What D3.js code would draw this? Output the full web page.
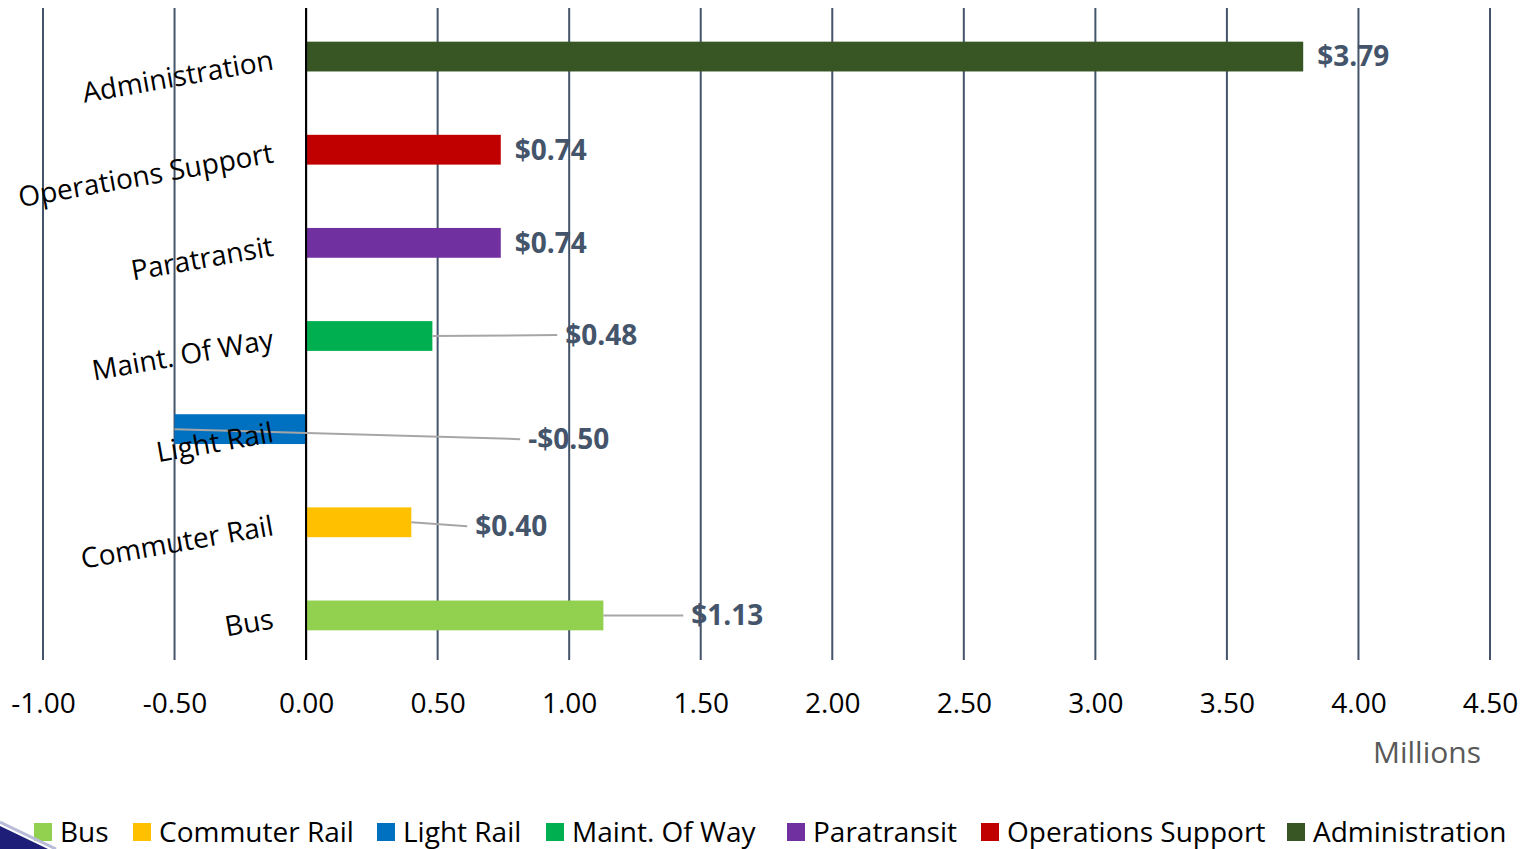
<!DOCTYPE html>
<html>
<head>
<meta charset="utf-8">
<script src="https://cdn.jsdelivr.net/npm/d3@7"></script>
<style>
  body { margin: 0; background: #fff; }
  svg text { font-family: 'Open Sans', sans-serif; }
</style>
</head>
<body>
<div id="chart"></div>
<script>
// data
var categories = ['Bus', 'Commuter Rail', 'Light Rail', 'Maint. Of Way', 'Paratransit', 'Operations Support', 'Administration']
var values = [1.13, 0.40, -0.50, 0.48, 0.74, 0.74, 3.79]
var labels = ['$1.13', '$0.40', '-$0.50', '$0.48', '$0.74', '$0.74', '$3.79']
var colors = ['#92D050', '#FFC000', '#0070C0', '#00B050', '#7030A0', '#C00000', '#375623']
var ticks = [-1, -0.5, 0, 0.5, 1, 1.5, 2, 2.5, 3, 3.5, 4, 4.5]
// where the moved data labels sit (in millions), null = next to the bar
var labelAt = [1.464, 0.643, 0.844, 0.985, null, null, null]
var labelDy = [0, 4, 10, -1, 0, 0, 0]

var width = 1526, height = 849

var svg = d3.select('#chart').append('svg')
  .attr('width', width)
  .attr('height', height)

var xScale = d3.scaleLinear().domain([-1, 4.5]).range([43, 1490])
var yScale = d3.scaleBand()
  .domain(categories.slice().reverse())
  .range([10, 662])
  .paddingInner(0.68)
  .paddingOuter(0.34)

// gridlines
svg.append('g')
  .selectAll('line')
  .data(ticks)
  .enter()
  .append('line')
  .attr('x1', d => xScale(d))
  .attr('x2', d => xScale(d))
  .attr('y1', 8)
  .attr('y2', 660)
  .attr('stroke', d => d === 0 ? '#000' : '#44546A')
  .attr('stroke-width', 2)

// x axis labels
svg.append('g')
  .attr('transform', 'translate(0,703)')
  .call(d3.axisBottom(xScale).tickValues(ticks).tickSize(0)
    .tickFormat(d => d3.format('.2f')(d).replace('\u2212', '-')))
  .call(g => g.select('.domain').remove())
  .selectAll('text')
  .attr('y', 0)
  .attr('dy', '0.35em')
  .attr('fill', '#000')
  .style('font-size', '28px')

svg.append('text')
  .attr('x', 1481)
  .attr('y', 752)
  .attr('dy', '0.35em')
  .attr('text-anchor', 'end')
  .attr('fill', '#595959')
  .style('font-size', '30px')
  .text('Millions')

var rows = categories.map(function(c, i) {
  return { name: c, value: values[i], label: labels[i], color: colors[i], at: labelAt[i], dy: labelDy[i] }
})

// bars
svg.selectAll('.bar')
  .data(rows)
  .enter()
  .append('rect')
  .attr('class', 'bar')
  .attr('x', d => xScale(Math.min(0, d.value)))
  .attr('width', d => Math.abs(xScale(d.value) - xScale(0)))
  .attr('y', d => yScale(d.name))
  .attr('height', yScale.bandwidth())
  .attr('fill', d => d.color)

// redraw zero line over bars
svg.append('line')
  .attr('x1', xScale(0)).attr('x2', xScale(0))
  .attr('y1', 8).attr('y2', 660)
  .attr('stroke', '#000').attr('stroke-width', 2)

var mid = d => yScale(d.name) + yScale.bandwidth() / 2

// leader lines
svg.selectAll('.leader')
  .data(rows.filter(d => d.at !== null))
  .enter()
  .append('line')
  .attr('class', 'leader')
  .attr('x1', d => xScale(d.value))
  .attr('y1', mid)
  .attr('x2', d => xScale(d.at) - 8)
  .attr('y2', d => mid(d) + d.dy)
  .attr('stroke', '#A6A6A6')
  .attr('stroke-width', 2)

// data labels
svg.selectAll('.vlabel')
  .data(rows)
  .enter()
  .append('text')
  .attr('class', 'vlabel')
  .attr('x', d => d.at !== null ? xScale(d.at) : xScale(d.value) + 14)
  .attr('y', d => mid(d) + d.dy)
  .attr('dy', '0.35em')
  .attr('fill', '#44546A')
  .style('font-size', '28px')
  .style('font-weight', 'bold')
  .text(d => d.label)

// category labels
svg.selectAll('.clabel')
  .data(rows)
  .enter()
  .append('text')
  .attr('class', 'clabel')
  .attr('transform', d => 'translate(273,' + (mid(d) + 3) + ') rotate(-10)')
  .attr('text-anchor', 'end')
  .attr('dy', '0.35em')
  .attr('fill', '#000')
  .style('font-size', '28px')
  .text(d => d.name)

// legend
var legendX = [34, 133, 377, 546, 787, 981, 1287]
var legend = svg.selectAll('.legend')
  .data(rows)
  .enter()
  .append('g')
  .attr('class', 'legend')
  .attr('transform', (d, i) => 'translate(' + legendX[i] + ',832)')
legend.append('rect')
  .attr('x', 0).attr('y', -9)
  .attr('width', 18).attr('height', 18)
  .attr('fill', d => d.color)
legend.append('text')
  .attr('x', 26)
  .attr('dy', '0.35em')
  .attr('fill', '#000')
  .style('font-size', '28px')
  .text(d => d.name)

// corner decoration
svg.append('path')
  .attr('d', 'M0,826 L48,849 L0,849 Z')
  .attr('fill', '#1E1E78')
svg.append('path')
  .attr('d', 'M0,822 L56,849')
  .attr('stroke', '#B8BCD8')
  .attr('stroke-width', 3)
</script>
</body>
</html>
